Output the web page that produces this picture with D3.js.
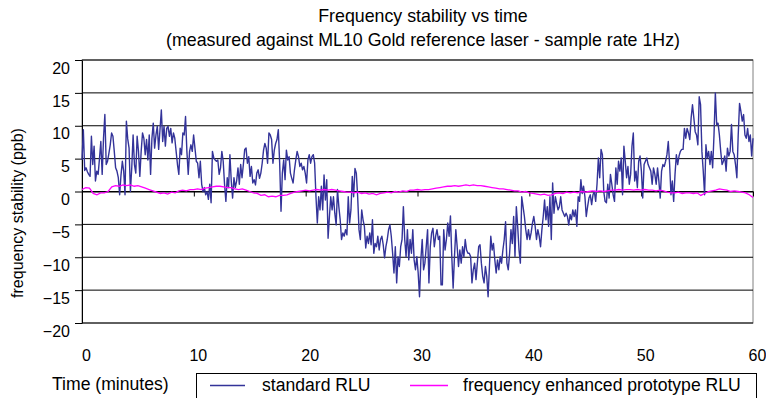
<!DOCTYPE html>
<html>
<head>
<meta charset="utf-8">
<script src="https://cdn.jsdelivr.net/npm/d3@7"></script>
<style>
body { margin: 0; background: #fff; }
svg { display: block; font-family: "Liberation Sans", Arial, sans-serif; }
</style>
</head>
<body>
<svg id="chart" width="766" height="398"></svg>
<script>
// x axis (minutes) and y axis (ppb) ticks
var minuteTicks = [0, 10, 20, 30, 40, 50, 60];
var ppbTicks = [-20, -15, -10, -5, 0, 5, 10, 15, 20];

// standard RLU, evenly spaced over 0..60 minutes
var standardRLU = [
  4.8, 9.4, 3.2, 3.6, 3.0, 2.6, 2.3, 8.4, 4.1, 6.9, 1.6, 3.1, 2.6, 5.0, 7.6, 2.6, 8.1, 11.7, 4.1, 4.6,
  5.8, 7.1, 8.9, 8.4, 6.1, 3.6, 3.1, 2.1, -0.5, 2.5, 4.6, 3.1, -0.5, 10.7, 8.0, 6.6, 0, 3.6, 8.6, 4.1,
  2.8, 8.4, 6.1, 2.3, 6.1, 8.9, 8.1, 5.6, 7.9, 4.8, 8.6, 2.6, 8.1, 10.4, 6.6, 8.6, 9.9, 6.4, 9.4, 12.4,
  7.6, 9.9, 6.9, 9.6, 9.9, 8.4, 9.6, 7.4, 8.9, 8.1, 6.1, 4.1, 2.6, 6.6, 5.6, 8.9, 8.6, 11.4, 6.1, 2.6,
  6.1, 7.1, 6.1, 8.6, 6.6, 4.6, 4.3, 2.1, 4.6, 1.1, 0, 0.6, -0.5, 0, -1.2, 1.1, -1.7, 6.1, 5.1, 4.8,
  4.6, 4.8, 2.6, 3.6, 6.1, 4.6, 1.1, -1.5, 2.1, 0.6, 5.6, 1.6, -1, 2.1, 0.6, 1.6, 3.6, 1.1, 4.1, 2.1,
  4.1, 6.4,
  6.6, 4.3, 5.3, 2.3, 3.8, 1.3, 1.8, 1.0, 2.8, 3.3, 2.0, 2.8, 4.3, 6.3, 7.3, 6.6, 4.3, 8.9, 8.6, 7.9,
  4.3, 6.3, 7.3, 7.9, 9.4, 4.3, -3.0, 2.8, 4.8, 1.8, 6.3, 4.8, 5.3, 2.8, 2.0, 1.3, 3.3, 4.8, 6.1, 5.3,
  3.8, 4.3, 3.3, 3.8, 2.8, 1.3, 4.8, 5.6, 4.3, 5.3, 5.6, 4.3, -0.8, -4.8, -0.8, -2.8, 0.8, -2.8, 2.5, -1.3,
  1.8, -7.1, -3.8, -0.8, -2.8, -0.8, -3.3, -5.1, 0.3, -2.3, -4.3, -7.3, -6.3, -6.8, -5.8, -6.6, -0.8, -4.8, -2.8, 2.3,
  -0.8, 3.5, 2.8, -0.8, -5.8, -7.3, -2.8, -4.3, -5.3, -8.6, -6.8, -7.9, -6.3, -8.1, -4.3, -9.4, -7.9, -8.4, -6.8, -8.9,
  -7.3, -6.8, -8.1, -10.1, -8.4, -7.3, -5.8, -5.1, -6.8, -9.4, -12.4, -8.4, -13.9, -9.9, -11.4, -8.4, -7.3, -2.3, -7.3, -9.9,
  -5.8, -10.4, -7.3, -9.4, -5.8, -10.4, -11.9, -9.9,
  -12.4, -16, -10.4, -7.3, -11.9, -10.9, -8.4, -5.8, -13.9, -8.4, -6.3, -5.6, -8.4, -6.8, -5.8, -7.3, -6.8, -14.2, -14.2, -5.8,
  -8.9, -7.3, -4.8, -6.8, -3.7, -9.9, -14.7, -9.9, -5.8, -8.4, -11.4, -8.9, -10.9, -8.4, -9.9, -7.3, -8.9, -9.4, -9.4, -9.9,
  -13.9, -11.9, -10.9, -13.4, -10.9, -8.4, -8.1, -10.9, -12.9, -13.9, -11.4, -12.9, -16, -11.4, -6.8, -8.9, -7.9, -10.4, -12.4, -10.4,
  -11.9, -9.9, -10.9, -8.9, -7.3, -4.6, -10.9, -11.9, -9.4, -5.8, -7.9, -3.8, -9.9, -2.3, -5.3, -8.9, -10.9, -0.8, -2.3, -3.8,
  -5.8, -7.3, -5.8, -7.3, -6.3, -4.8, -3.8, -5.3, -7.3, -5.8, -6.8, -8.4, -5.8, -3.8, -1.3, -4.3, -2.3, -5.3, -0.8, -7.3,
  1.3, -3.3, -0.8, -1.8, -2.8, -2.3, -0.8, -2.8, -3.3, -3.8, -3.3, -3.8, -5.1, -3.5, -4.3, -2.8, -3.8, -2.8, -5.3, -0.8,
  -1.5, 1.8, -0.3, 0.8, -0.8, -3.8, -2.3, -1.0,
  -0.5, -2.0, -0.5, 0, -1.5, 1.1, 5.1, 2.1, 6.4, 5.6, 0, -1.5, -1.7, 1.1, -1.0, 2.6, 1.1, -0.5, -1.5, 3.6,
  1.1, 4.6, 3.1, 5.1, -0.5, 6.9, 4.6, 2.1, 3.8, 1.1, 2.6, 6.9, 8.9, 1.6, 3.1, 0.6, 4.6, 5.4, 3.1, -1.0,
  4.1, 4.6, 5.1, 4.1, 3.6, 3.1, 1.1, 3.6, 2.6, 1.1, 3.6, 1.6, -1.0, 3.1, 4.1, 3.8, 4.6, 5.6, 7.6, 4.1,
  -0.5, 1.6, -1.5, 2.6, 5.6, 4.1, 5.4, 6.1, 6.4, 6.4, 9.6, 8.1, 9.6, 8.9, 7.9, 11.2, 13.2, 11.2, 9.1, 8.6,
  7.1, 14.4, 13.2, 6.1, 3.1, -0.5, 7.1, 5.1, 6.1, 4.1, 6.1, 3.6, 8.6, 15, 10.2, 10.4, 8.6, 6.1, 4.1, 4.6,
  5.4, 3.1, 6.6, 5.4, 6.1, 10.2, 6.1, 5.6, 4.1, 2.1, 8.6, 13.4, 12.2, 10.7, 11.7, 8.6, 8.1, 9.6, 7.6, 8.6,
  5.4, 8.1
];

// frequency enhanced prototype RLU, three readings per minute
var enhancedRLU = [
  0.3, 0.6, 0.5,  -0.3, -0.5, -0.2,  -0.2, 0.0, 0.7,  0.9, 0.8, 1.0,  0.9, 1.0, 0.8,
  0.9, 0.7, 0.5,  0.3, 0.1, -0.1,  -0.3, -0.2, -0.4,  -0.1, -0.2, 0.1,  0.2, 0.1, 0.3,
  0.3, 0.4, 0.3,  0.5, 0.6, 0.7,  0.8, 0.8, 0.7,  0.6, 0.6, 0.4,  0.3, 0.4, 0.2,
  0.0, -0.2, -0.3,  -0.6, -0.5, -0.8,  -0.7, -0.8, -0.6,  -0.6, -0.5, -0.3,  -0.1, 0.0, 0.1,
  0.2, 0.1, 0.2,  0.3, 0.2, 0.3,  0.2, 0.3, 0.2,  0.1, 0.0, -0.1,  -0.1, -0.2, -0.1,
  -0.3, -0.2, -0.4,  -0.3, -0.5, -0.3,  -0.2, -0.1, -0.2,  0.0, -0.1, 0.1,  0.0, 0.2, 0.2,
  0.3, 0.2, 0.3,  0.3, 0.4, 0.5,  0.6, 0.7, 0.8,  0.8, 0.9, 0.8,  0.9, 1.0, 0.9,
  1.0, 0.9, 0.9,  0.8, 0.7, 0.6,  0.5, 0.4, 0.4,  0.3, 0.2, 0.1,  0.1, -0.1, 0.0,
  -0.2, -0.3, -0.4,  -0.5, -0.4, -0.6,  -0.5, -0.3, -0.2,  -0.3, -0.1, -0.2,  -0.1, -0.2, 0.0,
  -0.1, 0.0, 0.1,  0.0, 0.1, 0.0,  0.1, 0.2, 0.2,  0.3, 0.2, 0.3,  0.3, 0.2, 0.3,
  0.2, 0.3, 0.2,  0.2, 0.1, 0.2,  0.1, -0.1, -0.2,  -0.2, -0.1, -0.3,  -0.2, -0.2, -0.3,
  -0.2, -0.6, -0.3,  0.0, 0.1, 0.2,  0.4, 0.3, 0.2,  0.0, 0.1, 0.0,  -0.1, -0.2, -0.5,
  -0.9
];

var svg = d3.select("#chart");
var x = d3.scaleLinear().domain([0, 60]).range([82, 753]);
var y = d3.scaleLinear().domain([-20, 20]).range([323, 60]);

// titles
svg.append("text").attr("x", 423).attr("y", 22).attr("text-anchor", "middle")
  .style("font-size", "17.8px").text("Frequency stability vs time");
svg.append("text").attr("x", 423).attr("y", 46).attr("text-anchor", "middle")
  .style("font-size", "17.8px").text("(measured against ML10 Gold reference laser - sample rate 1Hz)");

// plot frame and gridlines
svg.append("rect").attr("x", x(0)).attr("y", y(20))
  .attr("width", x(60) - x(0)).attr("height", y(-20) - y(20))
  .attr("fill", "none").attr("stroke", "#808080");

svg.append("g").selectAll("line").data(ppbTicks).enter().append("line")
  .attr("x1", x(0)).attr("x2", x(60))
  .attr("y1", function(d) { return y(d); })
  .attr("y2", function(d) { return y(d); })
  .attr("stroke", "#000").attr("stroke-width", 1);

// y axis
var yAxis = svg.append("g").attr("transform", "translate(" + x(0) + ",0)")
  .call(d3.axisLeft(y).tickValues(ppbTicks).tickSize(7).tickSizeOuter(0).tickPadding(5));
yAxis.select(".domain").attr("stroke", "#000");
yAxis.selectAll("text").attr("y", 8).style("font-size", "16px")
  .style("font-family", "'Liberation Sans', Arial, sans-serif").attr("fill", "#000");

// x axis sits on the zero line, labels below the plot
var xAxis = svg.append("g").attr("transform", "translate(0," + y(0) + ")")
  .call(d3.axisBottom(x).tickValues(minuteTicks).tickSize(5).tickSizeOuter(0));
xAxis.select(".domain").attr("stroke", "#000");
xAxis.selectAll("text").attr("y", 355 - y(0)).attr("dy", "0.35em").attr("dx", 4)
  .style("font-size", "16px").style("font-family", "'Liberation Sans', Arial, sans-serif")
  .attr("fill", "#000");

// series
var stdStep = 60 / (standardRLU.length - 1);
var enhStep = 60 / (enhancedRLU.length - 1);

var stdLine = d3.line()
  .x(function(d, i) { return x(i * stdStep); })
  .y(function(d) { return y(d); });
var enhLine = d3.line()
  .x(function(d, i) { return x(i * enhStep); })
  .y(function(d) { return y(d); });

svg.append("path").datum(standardRLU).attr("d", stdLine)
  .attr("fill", "none").attr("stroke", "#333399").attr("stroke-width", 1.4)
  .attr("stroke-linejoin", "round");
svg.append("path").datum(enhancedRLU).attr("d", enhLine)
  .attr("fill", "none").attr("stroke", "#ff00ff").attr("stroke-width", 1.3);

// axis titles
svg.append("text").attr("transform", "translate(23,213) rotate(-90)")
  .attr("text-anchor", "middle").style("font-size", "16px")
  .text("frequency stability (ppb)");
svg.append("text").attr("x", 52).attr("y", 390).style("font-size", "17.6px")
  .text("Time (minutes)");

// legend
var legend = svg.append("g");
legend.append("rect").attr("x", 196.5).attr("y", 373.5).attr("width", 560).attr("height", 30)
  .attr("fill", "#fff").attr("stroke", "#000");
legend.append("line").attr("x1", 210).attr("x2", 245).attr("y1", 385.5).attr("y2", 385.5)
  .attr("stroke", "#333399").attr("stroke-width", 1.3);
legend.append("text").attr("x", 262).attr("y", 391).style("font-size", "17.6px").text("standard RLU");
legend.append("line").attr("x1", 410).attr("x2", 448).attr("y1", 385.5).attr("y2", 385.5)
  .attr("stroke", "#ff00ff").attr("stroke-width", 1.3);
legend.append("text").attr("x", 463).attr("y", 391).style("font-size", "17.6px")
  .text("frequency enhanced prototype RLU");
</script>
</body>
</html>
